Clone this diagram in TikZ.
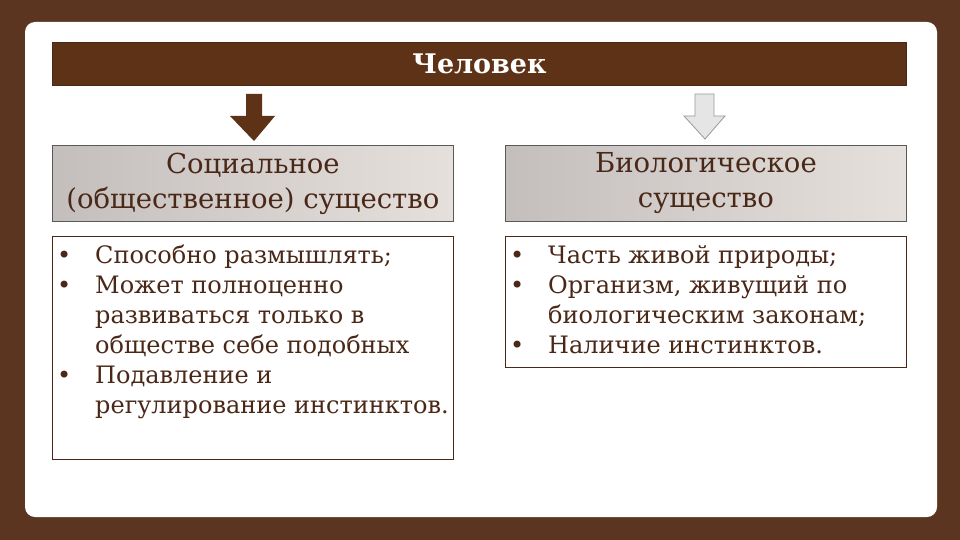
\documentclass[tikz,border=0pt]{standalone}
\usepackage{fontspec}
\setmainfont{DejaVu Serif}
\begin{document}
\begin{tikzpicture}[x=1pt,y=-1pt,
  hdr/.style={draw=gray!70!black,line width=0.8pt,left color=gbox!85!black,right color=gbox,minimum width=401pt,minimum height=76pt,anchor=north west,align=center,font=\fontsize{27.5}{35}\selectfont,text=tbrown,inner sep=0pt},
  body/.style={draw=tbrown,line width=1.2pt,fill=white,anchor=north west,inner sep=0pt},
  bl/.style={anchor=north west,inner sep=0pt,text=tbrown,font=\fontsize{24}{30}\selectfont,align=left}]
\definecolor{bg}{HTML}{5C3521}
\definecolor{tbrown}{HTML}{4A2818}
\definecolor{dbrown}{HTML}{5E3216}
\definecolor{gbox}{HTML}{E6E0DD}
\fill[bg] (0,0) rectangle (960,540);
\fill[white,rounded corners=10pt] (25,22) rectangle (937,517);
\node[draw=tbrown,line width=1pt,fill=dbrown,minimum width=854pt,minimum height=43pt,anchor=north west,inner sep=0pt,text=white,font=\bfseries\fontsize{27}{30}\selectfont] (title) at (52,42) {Человек};
\fill[dbrown] (246,94) -- (262,94) -- (262,116) -- (275,116) -- (254,141) -- (230,116) -- (246,116) -- cycle;
\filldraw[draw=gray!80,fill=gray!20,line width=0.8pt] (695,94) -- (714,94) -- (714,116) -- (725,116) -- (705,139) -- (684,116) -- (695,116) -- cycle;
\node[hdr] (h1) at (52,145) {Социальное\\(общественное) существо};
\node[hdr] (h2) at (505,145) {Биологическое\\существо};
\node[body,minimum width=401pt,minimum height=223pt] (b1) at (52,236) {};
\node[body,minimum width=401pt,minimum height=131pt] (b2) at (505,236) {};
\node[bl] (t1) at (57,245) {\makebox[38pt][l]{•}Способно размышлять;\\\makebox[38pt][l]{•}Может полноценно\\\hspace*{38pt}развиваться только в\\\hspace*{38pt}обществе себе подобных\\\makebox[38pt][l]{•}Подавление и\\\hspace*{38pt}регулирование инстинктов.};
\node[bl] (t2) at (510,245) {\makebox[38pt][l]{•}Часть живой природы;\\\makebox[38pt][l]{•}Организм, живущий по\\\hspace*{38pt}биологическим законам;\\\makebox[38pt][l]{•}Наличие инстинктов.};
\end{tikzpicture}
\end{document}
